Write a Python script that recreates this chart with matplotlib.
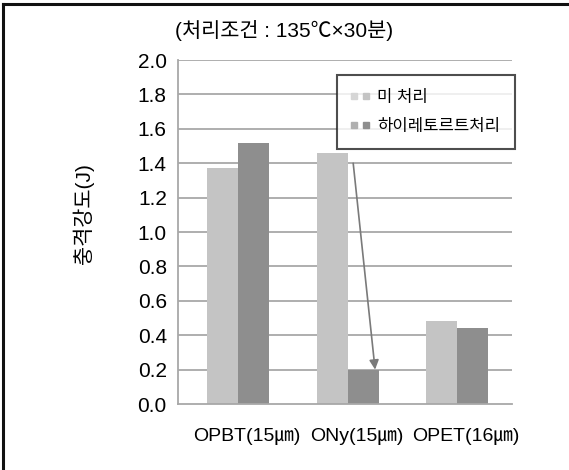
import numpy as np
import matplotlib.pyplot as plt
from matplotlib.lines import Line2D
from matplotlib.legend_handler import HandlerTuple

plt.rcParams['font.family'] = ['Liberation Sans', 'Noto Sans CJK KR', 'DejaVu Sans']

# 데이터
films = ['OPBT(15㎛)', 'ONy(15㎛)', 'OPET(16㎛)']
untreated = [1.37, 1.46, 0.48]
retort = [1.52, 0.20, 0.44]
series_names = ['미 처리', '하이레토르트처리']
y_ticks = [0.0, 0.2, 0.4, 0.6, 0.8, 1.0, 1.2, 1.4, 1.6, 1.8, 2.0]

light = '#c4c4c4'
dark = '#8e8e8e'
grid_c = '#a8a8a8'

fig = plt.figure(figsize=(5.69, 4.70), dpi=100)
ax = fig.add_axes([0.3128, 0.1404, 0.5870, 0.7319])

x = np.arange(len(films))
w = 0.283
ax.bar(x - w / 2, untreated, w, color=light, zorder=2)
ax.bar(x + w / 2, retort, w, color=dark, zorder=2)

ax.set_xlim(-0.55, 2.5)
ax.set_ylim(0, 2.0)
ax.set_yticks(y_ticks)
ax.set_yticklabels([f'{v:.1f}' for v in y_ticks], fontsize=15)
ax.set_xticks(x + 0.08)
ax.set_xticklabels(films, fontsize=14)
ax.tick_params(axis='x', length=0, pad=17)
ax.tick_params(axis='y', length=0, pad=8)

for yv in y_ticks[1:]:
    ax.axhline(yv, color=grid_c, lw=1.3, zorder=1)

for s in ['top', 'right']:
    ax.spines[s].set_visible(False)
for s in ['left', 'bottom']:
    ax.spines[s].set_color(grid_c)
    ax.spines[s].set_linewidth(1.3)

ax.set_ylabel('충격강도(J)', fontsize=15)
ax.yaxis.set_label_coords(-0.25, 0.555)

# 하이레토르트 처리 후 ONy 강도 저하 화살표
ax.annotate('', xy=(1.25, retort[1]), xytext=(1.05, 1.40),
            arrowprops=dict(arrowstyle='-|>', color='#7a7a7a', lw=1.2,
                            mutation_scale=14, shrinkA=0, shrinkB=0),
            zorder=4)

# 범례: 막대 색마다 작은 사각형 두 개
h1 = (Line2D([], [], marker='s', ls='', color='#d6d6d6', ms=5),
      Line2D([], [], marker='s', ls='', color=light, ms=5))
h2 = (Line2D([], [], marker='s', ls='', color='#b0b0b0', ms=5),
      Line2D([], [], marker='s', ls='', color=dark, ms=5))
leg = ax.legend([h1, h2], series_names, handler_map={tuple: HandlerTuple(ndivide=None, pad=0.4)},
                loc='upper left', bbox_to_anchor=(0.476, 0.956), fontsize=12,
                frameon=True, fancybox=False, handlelength=1.0, handletextpad=0.5,
                labelspacing=0.85, borderpad=0.9, borderaxespad=0)
leg.get_frame().set_edgecolor('#222222')
leg.get_frame().set_linewidth(1.5)
leg.set_zorder(5)

fig.text(0.50, 0.936, '(처리조건 : 135℃×30분)', fontsize=15, ha='center', va='center')

# 위쪽과 왼쪽 테두리
fig.add_artist(Line2D([0.006, 1.0], [0.991, 0.991], color='#111111', lw=2.2))
fig.add_artist(Line2D([0.006, 0.006], [0.0, 0.991], color='#111111', lw=2.2))

fig.savefig('out.png', dpi=100)
